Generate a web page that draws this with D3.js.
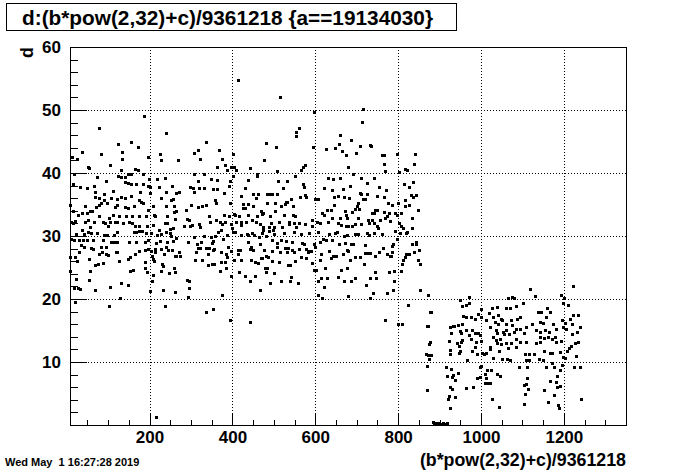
<!DOCTYPE html>
<html>
<head>
<meta charset="utf-8">
<script src="https://cdn.jsdelivr.net/npm/d3@7"></script>
<style>
  html, body { margin: 0; padding: 0; background: #fff; overflow: hidden; }
  svg { display: block; }
  text { font-family: "Liberation Sans", Arial, Helvetica, sans-serif; font-weight: bold; }
</style>
</head>
<body>
<svg id="svgx"></svg>
<script>
// ---- chart texts
const chartTitle = "d:(b*pow(2,32)+c)/9361218 {a==19134030}";
const xTitle = "(b*pow(2,32)+c)/9361218";
const yTitle = "d";
const stamp = "Wed May  1 16:27:28 2019";

// ---- axis ranges and ticks
const xRange = [8, 1350];
const yRange = [0, 60];
const xMajor = [200, 400, 600, 800, 1000, 1200];
const xMinor = [50,100,150,250,300,350,450,500,550,650,700,750,850,900,950,1050,1100,1150,1250,1300];
const yMajor = [10, 20, 30, 40, 50, 60];
const yMinor = [2,4,6,8,12,14,16,18,22,24,26,28,32,34,36,38,42,44,46,48,52,54,56,58];

// ---- points [x, d]
// first block, x up to ~300
const blockA1 = [[186.5,49.1],[78.7,47.1],[239.6,46.4],[124.6,44.6],[155.9,44.9],[172.8,44.2],[37.8,43.3],[13.6,42.6],[25.7,42.2],[83.6,43.0],[133.4,43.3],[134.2,42.2],[196.1,42.5],[225.9,43.0],[226.7,42.1],[269.3,42.1],[52.2,41.0],[54.6,40.8],[105.3,41.2],[131.8,40.5],[165.6,40.7],[171.2,40.4],[148.7,39.8],[156.0,39.9],[17.6,39.8],[73.9,39.3],[124.6,39.6],[131.0,39.3],[141.5,39.3],[183.3,39.9],[199.4,39.1],[217.8,39.0],[238.0,39.2],[16.0,38.2],[32.9,37.8],[49.0,37.6],[65.1,38.0],[94.8,38.7],[141.5,38.5],[147.9,38.4],[154.3,38.3],[168.0,38.2],[184.1,38.2],[196.9,38.0],[201.0,37.7],[221.9,37.8],[254.8,37.9],[297.4,37.8],[69.1,37.0],[90.0,36.7],[110.9,37.2],[177.6,37.0],[201.8,36.8],[239.6,37.0],[264.5,36.9],[270.1,37.0],[67.5,36.2],[78.8,36.0],[89.2,35.7],[98.0,35.2],[106.9,36.0],[122.2,35.9],[131.0,36.2],[139.9,36.1],[155.1,36.3],[175.2,35.7],[180.1,35.4],[184.9,35.2],[227.5,36.0],[250.8,35.7],[255.6,35.9],[9.2,35.0],[299.0,35.0],[44.2,34.8],[56.2,34.0],[71.5,34.6],[78.0,35.0],[82.0,35.3],[115.7,34.6],[120.6,34.9],[139.9,34.6],[148.7,34.4],[163.2,34.8],[196.1,34.2],[209.0,34.7],[240.4,34.7],[258.0,34.7],[288.6,34.2],[14.4,34.0],[27.3,33.3],[36.1,33.6],[49.8,33.6],[61.9,33.9],[78.0,33.1],[101.3,32.8],[112.5,33.4],[125.4,33.2],[143.1,33.1],[158.4,33.2],[174.4,33.1],[191.3,33.2],[210.6,33.3],[213.8,33.1],[242.8,33.2],[258.0,33.8],[264.5,34.0],[262.1,32.7],[291.0,32.7],[10.4,32.3],[15.2,32.0],[19.3,32.4],[43.4,32.3],[52.2,32.5],[57.0,31.5],[65.9,32.3],[86.8,32.2],[93.2,32.0],[99.7,31.6],[105.3,32.2],[115.7,32.2],[121.4,32.2],[135.0,32.1],[149.5,32.3],[156.7,32.1],[165.6,31.6],[173.6,31.6],[192.9,31.6],[208.2,31.8],[222.7,31.0],[236.3,32.0],[242.0,32.0],[250.0,31.1],[256.4,31.3],[283.0,31.6],[295.8,32.5],[21.7,30.3],[36.1,30.9],[41.8,30.3],[52.2,30.6],[59.5,30.5],[72.3,30.5],[89.2,30.2],[96.4,30.1],[114.1,30.1],[120.6,30.6],[161.6,30.7],[168.0,30.7],[174.4,30.8],[182.5,30.8],[190.5,30.4],[202.6,30.4],[217.8,30.2],[226.7,30.3],[239.6,30.6],[252.4,30.0],[250.0,30.5],[9.6,29.6],[18.5,29.4],[29.0,29.3],[38.6,29.4],[49.8,29.3],[64.3,29.3],[88.4,29.3],[106.9,29.1],[113.3,29.1],[122.2,29.1],[151.1,29.1],[166.4,29.1],[189.7,29.0],[195.3,29.3],[215.4,28.9],[225.1,29.2],[242.8,29.0],[256.4,29.2],[263.7,29.7],[292.6,29.1],[35.3,28.5],[40.9,28.3],[58.7,28.1],[64.3,27.9],[82.0,28.3],[94.8,28.2],[189.7,27.8],[196.1,27.9],[203.4,27.6],[213.0,28.0],[227.5,28.0],[239.6,28.2],[245.2,27.7],[254.0,27.8],[29.0,27.5],[78.0,27.2],[84.4,27.4],[94.0,27.2],[100.5,27.0],[118.1,27.5],[121.4,27.4],[164.0,27.2],[173.6,27.6],[213.0,27.4],[205.8,26.9],[233.9,27.2],[260.4,26.9],[264.5,26.8],[271.7,27.5],[274.1,26.8],[9.0,26.6],[19.3,26.7],[24.1,26.0],[54.6,26.4],[67.5,25.4],[76.3,25.5],[86.8,25.7],[127.0,26.0],[147.1,26.4],[151.9,26.7],[188.9,25.9],[209.0,26.3],[210.6,26.0],[229.1,25.6],[232.3,25.3],[9.0,24.4],[57.0,24.5],[159.2,24.6],[153.5,24.4],[189.7,24.9],[192.9,24.3],[208.2,23.8],[228.3,24.5],[246.0,24.1],[259.7,24.9],[262.1,24.3],[21.7,23.2],[53.8,23.0],[205.8,22.9],[290.2,23.0],[295.8,22.9],[131.8,22.5],[148.7,22.2],[17.6,21.8],[27.3,21.7],[33.0,21.6],[69.1,21.5],[105.3,21.9],[200.2,21.3],[233.1,21.5],[261.3,21.1],[295.8,21.7],[128.6,20.2],[20.9,19.5],[102.9,18.9],[238.0,18.9],[294.0,20.3],[216.0,1.3]];

// first block, x ~300 to ~580
const blockA2 = [[414.1,54.7],[515.4,52.0],[561.3,47.2],[554.0,46.5],[554.0,45.8],[336.9,44.9],[481.7,44.7],[505.8,44.2],[316.0,43.6],[308.0,43.1],[368.3,43.6],[402.1,43.0],[322.5,42.2],[375.5,42.2],[476.8,42.0],[381.2,41.3],[363.5,40.9],[395.6,41.0],[404.5,41.0],[408.5,40.5],[443.1,40.8],[387.6,40.4],[575.7,41.2],[570.9,41.0],[564.5,40.4],[308.0,39.9],[330.5,39.9],[400.5,39.5],[460.0,39.9],[460.0,39.5],[507.4,40.3],[550.0,39.6],[316.0,38.8],[347.4,39.1],[363.5,38.9],[393.2,38.8],[438.2,38.9],[510.6,38.7],[532.3,38.7],[390.8,38.0],[570.1,38.2],[304.0,37.6],[320.1,37.6],[332.1,37.6],[353.8,37.5],[361.9,37.5],[431.0,37.6],[522.7,37.6],[573.3,37.7],[307.2,37.0],[380.4,36.9],[421.4,36.3],[449.5,36.6],[461.6,36.6],[483.3,36.6],[490.5,36.6],[495.3,36.6],[507.4,36.6],[562.9,36.2],[574.9,36.5],[456.7,36.0],[540.4,35.8],[529.1,35.4],[546.0,34.7],[357.0,35.7],[360.3,35.2],[394.0,35.3],[426.2,35.1],[436.6,35.1],[483.3,35.2],[502.6,35.3],[517.9,34.8],[526.7,35.1],[531.3,35.4],[300.8,35.0],[317.6,34.6],[325.7,34.7],[335.3,34.9],[426.2,34.5],[429.4,34.4],[448.7,34.7],[468.0,34.0],[576.5,36.2],[471.2,33.5],[503.4,33.9],[474.4,33.6],[404.5,33.5],[416.5,33.2],[392.4,33.1],[436.6,33.4],[459.2,33.2],[490.5,33.1],[523.5,33.3],[545.2,33.3],[550.0,33.1],[343.4,33.1],[378.8,33.3],[406.1,33.3],[361.1,32.6],[345.8,32.3],[369.9,32.3],[382.0,32.2],[373.9,31.9],[397.2,31.9],[407.7,32.2],[420.6,32.3],[433.4,32.3],[447.9,32.5],[456.0,32.2],[465.6,31.9],[493.7,32.0],[511.4,32.2],[535.5,32.3],[536.3,31.9],[549.2,32.1],[559.9,32.0],[575.7,31.9],[298.4,31.6],[301.6,31.7],[320.1,31.9],[322.5,31.4],[398.0,31.3],[420.6,31.7],[473.6,31.4],[488.9,31.4],[501.0,31.5],[519.5,31.4],[552.4,31.4],[365.9,30.7],[372.3,30.9],[386.8,30.2],[402.1,30.6],[406.1,30.6],[420.6,30.2],[434.2,30.3],[436.6,30.1],[446.3,30.4],[452.7,30.2],[470.4,30.5],[473.6,30.9],[488.9,30.8],[498.6,30.9],[501.0,30.3],[525.1,30.4],[549.2,30.6],[565.3,30.3],[583.8,30.4],[307.2,29.8],[330.5,30.0],[348.2,29.9],[357.0,30.0],[378.0,29.5],[464.0,29.9],[481.7,30.0],[495.3,29.3],[508.2,28.9],[517.0,29.4],[529.9,29.2],[542.8,29.1],[567.7,28.9],[573.3,28.7],[313.6,28.7],[324.9,29.0],[353.0,29.2],[351.4,28.9],[438.2,29.0],[466.4,28.7],[316.8,28.1],[322.5,28.1],[336.1,28.1],[342.6,28.1],[355.4,28.0],[390.0,28.3],[444.7,28.2],[506.6,28.3],[525.9,28.1],[533.9,28.1],[561.3,28.0],[576.5,28.0],[352.2,27.8],[397.2,27.6],[413.3,27.7],[419.0,27.7],[441.5,27.9],[449.5,27.7],[475.2,27.7],[494.5,27.6],[543.6,27.8],[585.4,27.6],[311.2,27.4],[341.0,27.1],[373.1,27.4],[385.2,27.1],[412.5,27.2],[514.6,27.4],[531.5,27.4],[548.4,27.5],[582.2,27.4],[386.0,26.6],[468.8,26.5],[481.7,26.9],[484.9,26.7],[564.5,26.7],[310.4,26.2],[326.5,26.2],[372.3,25.9],[404.5,26.2],[419.8,26.2],[445.5,26.2],[453.5,25.9],[471.2,26.5],[495.3,26.1],[511.4,25.9],[551.6,26.0],[577.3,26.5],[340.2,25.4],[349.8,25.5],[355.4,25.6],[382.8,25.8],[461.6,25.7],[534.7,25.4],[539.6,25.4],[369.1,24.5],[384.4,24.9],[478.4,24.9],[484.1,24.9],[499.4,24.1],[416.5,24.3],[397.2,23.7],[430.2,23.6],[455.1,23.6],[480.1,24.3],[542.0,23.5],[441.5,22.9],[490.5,22.6],[516.2,22.9],[539.6,22.9],[558.0,22.6],[465.6,21.5],[375.5,20.6],[353.8,18.4],[336.9,17.9],[394.0,16.7],[443.1,16.3]];

// first block, x ~590 to ~880
const blockA3 = [[715.7,50.2],[597.5,49.7],[712.5,48.1],[660.2,46.1],[686.7,45.2],[657.8,44.6],[595.1,44.1],[626.4,43.8],[648.2,43.9],[664.2,43.5],[674.7,42.8],[698.8,43.1],[708.5,44.3],[731.8,44.5],[735.0,44.3],[759.9,42.9],[765.5,42.9],[797.7,43.0],[841.1,43.0],[766.3,41.5],[837.1,41.5],[679.5,40.9],[768.0,40.3],[801.7,40.2],[816.2,40.7],[822.6,40.5],[690.8,39.8],[631.3,39.2],[642.5,39.1],[660.2,39.2],[710.9,39.2],[742.2,39.2],[725.3,38.4],[814.6,38.2],[835.5,38.5],[826.6,37.7],[621.6,37.6],[640.1,37.3],[666.6,37.5],[684.3,37.9],[754.3,37.7],[769.6,37.3],[707.6,36.8],[710.9,36.6],[725.3,36.6],[748.7,36.4],[764.7,36.2],[831.5,36.5],[836.3,36.2],[843.6,36.5],[644.1,36.2],[654.6,36.4],[668.3,36.2],[681.9,36.1],[714.9,35.9],[720.5,35.8],[817.0,35.7],[599.9,35.9],[605.5,35.8],[776.0,35.3],[784.8,35.0],[800.1,35.3],[817.0,34.8],[825.8,35.0],[703.6,35.3],[645.8,35.0],[699.6,34.7],[627.2,34.2],[637.7,34.2],[672.3,34.0],[695.6,34.3],[704.4,34.3],[744.6,34.2],[749.5,34.2],[848.3,34.1],[615.2,33.6],[620.0,33.4],[673.1,33.4],[687.6,33.8],[735.8,33.6],[741.4,33.6],[766.3,33.8],[772.8,33.2],[778.4,33.6],[791.3,33.7],[797.7,33.4],[808.1,33.6],[640.1,32.9],[659.4,32.8],[675.5,32.9],[702.0,32.8],[726.9,32.5],[737.4,32.6],[755.1,32.5],[768.8,32.8],[780.0,32.4],[832.3,32.8],[592.7,32.5],[603.1,32.2],[611.2,32.1],[630.5,32.2],[653.8,32.0],[662.6,31.7],[673.1,31.6],[678.7,31.6],[687.6,31.6],[694.8,31.9],[710.9,31.9],[729.4,32.0],[742.2,32.1],[748.7,31.6],[751.1,31.2],[802.5,32.0],[806.5,31.6],[811.4,31.2],[833.1,31.2],[591.1,31.6],[607.1,30.6],[633.7,30.3],[648.2,30.4],[651.4,30.7],[668.3,30.0],[676.1,30.2],[695.6,30.3],[703.6,30.3],[724.5,30.4],[728.6,30.2],[740.6,30.4],[760.7,30.3],[792.9,30.8],[796.1,29.5],[818.6,30.5],[821.8,30.6],[804.1,30.4],[617.6,29.5],[624.8,29.3],[639.3,29.4],[656.2,28.7],[672.3,28.9],[685.1,28.8],[690.0,28.7],[719.7,28.5],[763.9,28.1],[784.8,28.4],[787.2,28.7],[842.7,29.0],[843.6,28.7],[833.1,28.7],[597.5,28.8],[611.2,29.0],[599.1,28.2],[632.1,27.6],[642.5,26.9],[648.9,26.9],[676.3,27.8],[677.9,27.6],[667.4,27.2],[695.6,26.6],[706.8,26.7],[719.7,27.3],[726.1,27.3],[730.9,27.3],[743.0,26.9],[754.3,27.5],[772.8,27.1],[779.2,26.8],[783.2,26.9],[784.0,27.4],[819.4,27.2],[826.6,27.2],[837.1,27.5],[850.8,27.8],[613.6,27.1],[589.5,27.6],[612.0,26.2],[637.7,26.5],[682.7,26.2],[817.0,26.6],[811.4,26.2],[809.0,25.5],[848.3,26.2],[851.6,25.6],[591.9,25.7],[718.1,25.6],[595.9,24.6],[601.5,24.6],[624.0,24.9],[662.6,24.6],[677.1,24.9],[744.6,24.3],[778.4,24.3],[790.5,24.5],[807.3,24.4],[612.8,23.4],[605.5,22.9],[628.1,23.3],[653.8,23.5],[669.1,22.8],[686.7,22.9],[696.4,23.3],[732.6,23.4],[746.2,23.3],[789.7,22.9],[620.8,21.9],[722.1,22.3],[787.2,21.4],[773.6,21.0],[739.8,21.0],[853.2,21.5],[605.5,20.6],[616.0,20.2],[679.5,20.4],[731.8,20.1],[824.2,19.0],[876.5,17.9],[767.1,16.7],[798.5,16.0],[809.8,16.1],[870.8,15.7],[852.4,21.5],[872.5,20.6],[878.2,17.9],[872.5,15.7],[876.5,13.2],[874.1,12.9],[866.9,11.3],[872.5,11.1],[879.0,11.1],[875.7,10.5],[870.1,9.3],[870.1,5.6]];

// points sitting on the lower edge
const zeroRow = [[884,0.4],[886.5,0.2],[891,0.3],[893,0.1],[897,0.2],[899.5,0.3],[904,0.1],[906,0.2],[909.5,0.3],[912,0.1],[915,0.2],[919,0.3]];

// second block, x ~915 to ~1240
const blockB = [[926.4,11.2],[915.1,9.2],[927.2,8.9],[918.3,7.7],[931.2,7.6],[933.6,7.9],[938.4,7.1],[945.7,8.2],[926.4,6.1],[931.2,5.7],[921.6,4.6],[919.2,4.2],[936.8,4.5],[926.4,2.7],[925.6,15.6],[932.0,15.7],[923.2,13.4],[928.0,14.6],[924.8,11.9],[948.9,19.9],[955.3,18.9],[971.4,20.3],[971.4,19.4],[963.4,19.0],[1000.4,18.4],[957.0,17.3],[963.4,17.2],[975.4,17.1],[993.1,17.6],[1000.4,17.2],[985.9,16.9],[943.3,15.9],[935.2,15.7],[954.5,16.1],[963.4,15.1],[948.9,15.0],[951.3,14.6],[977.8,15.1],[985.1,14.6],[992.3,14.6],[997.1,14.3],[970.6,14.3],[976.2,13.6],[955.3,13.5],[951.3,13.2],[941.7,13.0],[999.6,13.4],[988.3,13.2],[985.1,12.4],[947.3,12.5],[949.7,11.7],[946.5,11.4],[966.6,10.3],[978.6,11.7],[990.7,11.3],[1003.6,11.5],[1007.6,11.3],[1013.2,11.4],[1022.9,12.4],[1029.3,10.6],[1027.7,18.5],[1039.0,18.7],[1029.3,17.2],[1041.4,17.5],[1049.4,16.9],[1061.5,18.6],[1069.5,18.6],[1065.5,20.1],[1075.9,20.3],[1080.0,20.1],[1084.0,18.9],[1101.7,19.3],[1119.3,21.6],[1129.8,20.5],[1019.7,17.7],[1013.2,16.7],[1021.3,15.6],[1033.3,16.4],[1042.2,16.1],[1051.8,16.6],[1061.5,16.1],[1072.7,16.6],[1075.9,15.9],[1087.2,16.8],[1093.6,17.2],[1123.4,16.1],[1108.1,15.6],[1035.7,15.1],[1039.0,14.6],[1053.4,14.8],[1061.5,15.1],[1068.7,14.5],[1055.8,14.4],[1079.2,14.7],[1085.6,15.2],[1095.2,15.2],[1104.9,14.6],[1029.3,14.0],[1035.7,13.5],[1039.0,13.0],[1045.4,13.7],[1048.6,12.9],[1061.5,13.0],[1064.7,12.2],[1072.7,13.0],[1085.6,13.7],[1094.4,13.1],[1108.1,13.2],[1085.6,12.4],[1043.8,11.8],[1021.3,12.1],[1105.7,11.3],[1116.1,11.3],[1127.4,11.3],[1051.8,10.5],[1063.1,10.4],[1069.5,10.3],[1108.1,10.3],[1115.3,10.3],[1092.0,9.2],[1111.3,9.2],[998.8,9.2],[1000.7,9.4],[1014.8,8.8],[1025.3,8.7],[1010.8,8.1],[1039.0,8.1],[1047.0,7.7],[990.7,7.4],[998.8,7.6],[1011.6,7.4],[1009.2,6.6],[1017.2,6.7],[1021.3,6.6],[1111.3,7.4],[1109.7,6.5],[1103.3,6.4],[1114.5,5.7],[1106.5,5.0],[981.1,6.0],[963.4,5.8],[1026.9,4.1],[1043.8,2.9],[1103.3,3.3],[1222.2,22.0],[1192.5,20.6],[1200.5,20.1],[1198.1,19.3],[1210.2,19.0],[1160.3,18.5],[1167.6,17.9],[1137.8,18.0],[1145.9,17.9],[1156.3,17.1],[1222.2,17.5],[1234.3,17.5],[1214.2,16.9],[1195.7,16.7],[1141.8,16.4],[1149.9,16.2],[1174.0,16.1],[1202.1,16.2],[1220.6,16.1],[1133.8,15.1],[1143.4,14.8],[1153.9,15.1],[1163.5,14.8],[1182.0,15.2],[1198.1,15.6],[1206.2,15.3],[1238.3,15.5],[1232.2,14.8],[1220.6,14.5],[1141.8,14.0],[1152.3,13.8],[1161.9,13.9],[1170.8,13.6],[1178.0,13.9],[1182.0,13.1],[1192.5,13.4],[1141.8,13.2],[1133.8,13.0],[1235.1,13.1],[1226.3,13.0],[1218.2,12.6],[1212.6,12.2],[1208.6,11.8],[1151.5,11.8],[1166.0,11.5],[1172.4,11.5],[1190.1,11.6],[1228.7,11.0],[1198.1,10.8],[1202.1,10.6],[1140.2,10.4],[1149.9,10.3],[1172.4,9.9],[1157.9,9.2],[1176.4,9.2],[1190.1,8.8],[1196.5,9.5],[1224.7,9.2],[1238.3,9.2],[1183.6,7.8],[1167.6,7.0],[1180.4,6.8],[1190.1,6.2],[1184.5,6.0],[1152.3,5.6],[1176.4,4.8],[1161.1,3.6],[1185.3,3.2],[1188.5,2.7],[1240.7,4.1]];

const points = [...blockA1, ...blockA2, ...blockA3, ...zeroRow, ...blockB];

// ---- layout
const W = 696, H = 472;
const margin = { top: 47, right: 70, bottom: 47, left: 70 };
const innerWidth = W - margin.left - margin.right;
const innerHeight = H - margin.top - margin.bottom;
const fontsize = 17;     // tick labels
const titlesize = 17.8;  // axis titles

const svg = d3.select('#svgx').attr('width', W).attr('height', H);
svg.append('rect').attr('width', W).attr('height', H).attr('fill', '#fff');

const g = svg.append('g').attr('transform', `translate(${margin.left},${margin.top})`);

const xScale = d3.scaleLinear().domain(xRange).range([0, innerWidth]);
const yScale = d3.scaleLinear().domain(yRange).range([innerHeight, 0]);

// ---- grid
g.append('g').selectAll('line').data(xMajor).enter().append('line')
  .attr('x1', d => Math.round(xScale(d)) + 0.5).attr('x2', d => Math.round(xScale(d)) + 0.5)
  .attr('y1', 0).attr('y2', innerHeight)
  .attr('stroke', '#000').attr('stroke-width', 1).attr('stroke-dasharray', '1,2');
g.append('g').selectAll('line').data(yMajor).enter().append('line')
  .attr('y1', d => Math.round(yScale(d)) + 0.5).attr('y2', d => Math.round(yScale(d)) + 0.5)
  .attr('x1', 0).attr('x2', innerWidth)
  .attr('stroke', '#000').attr('stroke-width', 1).attr('stroke-dasharray', '1,2');

// ---- x axis (ticks pointing inward)
g.append('g').attr('transform', `translate(0,${innerHeight})`)
  .call(d3.axisBottom(xScale).tickValues(xMajor).tickSize(-11).tickSizeOuter(0).tickPadding(6).tickFormat(d3.format('d')));
g.append('g').attr('class', 'minor').attr('transform', `translate(0,${innerHeight})`)
  .call(d3.axisBottom(xScale).tickValues(xMinor).tickSize(-5.5).tickSizeOuter(0));

// ---- y axis
g.append('g')
  .call(d3.axisLeft(yScale).tickValues(yMajor).tickSize(-16.7).tickSizeOuter(0).tickPadding(9).tickFormat(d3.format('d')));
g.append('g').attr('class', 'minor')
  .call(d3.axisLeft(yScale).tickValues(yMinor).tickSize(-8.3).tickSizeOuter(0));

g.selectAll('.minor text').remove();
g.selectAll('.domain').remove();
g.selectAll('.tick line').attr('stroke', '#000').attr('shape-rendering', 'crispEdges');
g.selectAll('.tick text')
  .style('font-size', fontsize + 'px')
  .style('font-family', '"Liberation Sans", Arial, sans-serif')
  .style('font-weight', 'bold')
  .attr('fill', '#000');

// ---- frame
g.append('rect')
  .attr('x', 0.5).attr('y', 0.5)
  .attr('width', innerWidth).attr('height', innerHeight)
  .attr('fill', 'none').attr('stroke', '#000').attr('stroke-width', 1)
  .attr('shape-rendering', 'crispEdges');

// ---- scatter points
g.append('g').selectAll('rect.pt').data(points).enter().append('rect')
  .attr('class', 'pt')
  .attr('x', d => Math.round(xScale(d[0])) - 1)
  .attr('y', d => Math.round(yScale(d[1])) - 1)
  .attr('width', 3).attr('height', 3)
  .attr('fill', '#000')
  .attr('shape-rendering', 'crispEdges');

// ---- axis titles
svg.append('text')
  .attr('x', margin.left + innerWidth).attr('y', 466)
  .attr('text-anchor', 'end')
  .style('font-size', titlesize + 'px')
  .text(xTitle);

svg.append('text')
  .attr('transform', `translate(33,${margin.top}) rotate(-90)`)
  .attr('text-anchor', 'end')
  .style('font-size', titlesize + 'px')
  .text(yTitle);

// ---- title box
svg.append('rect')
  .attr('x', 6.5).attr('y', 3.5).attr('width', 450).attr('height', 27)
  .attr('fill', '#fff').attr('stroke', '#000').attr('stroke-width', 1);
svg.append('text')
  .attr('x', 22).attr('y', 25)
  .style('font-size', '20.8px')
  .text(chartTitle);

// ---- date stamp
svg.append('text')
  .attr('x', 5).attr('y', 466)
  .style('font-size', '11px')
  .style('white-space', 'pre')
  .attr('xml:space', 'preserve')
  .text(stamp);
</script>
</body>
</html>
